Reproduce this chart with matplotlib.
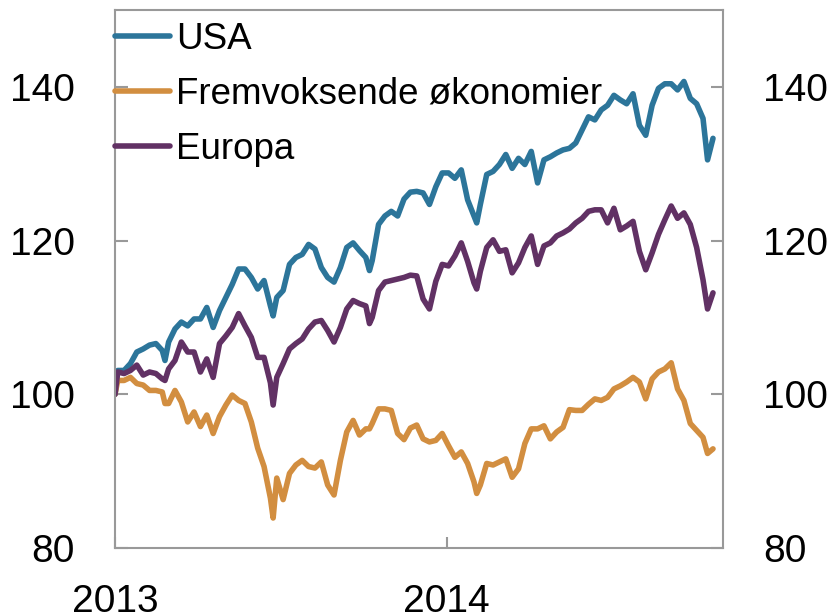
import matplotlib
matplotlib.use("Agg")
import matplotlib.pyplot as plt
import matplotlib.dates as mdates
import numpy as np
import pandas as pd

plt.rcParams['font.family'] = ['Liberation Sans', 'DejaVu Sans']

# weekly readings, Fridays from 2013-01-04 to 2014-10-10
weeks = pd.date_range("2013-01-04", periods=93, freq="7D")

usa = [103.1, 103.1, 104.0, 105.5, 105.9, 106.4, 106.6, 105.7, 106.8, 108.5,
       109.4, 108.9, 109.8, 109.8, 111.3, 108.7, 110.9, 112.6, 114.3, 116.3,
       116.3, 115.2, 113.7, 114.8, 111.5, 112.6, 113.5, 116.9, 117.8, 118.2,
       119.5, 118.9, 116.5, 115.2, 114.6, 116.5, 119.1, 119.7, 118.7, 117.8,
       117.4, 122.1, 123.2, 123.8, 123.2, 125.4, 126.3, 126.4, 126.2, 124.7,
       127.0, 128.8, 128.8, 128.1, 129.2, 125.3, 123.2, 124.7, 128.6, 129.0,
       129.9, 131.2, 129.4, 130.7, 129.9, 131.6, 127.5, 130.5, 130.9, 131.4,
       131.8, 132.0, 132.7, 134.4, 136.1, 135.7, 137.0, 137.6, 138.9, 138.3,
       137.8, 139.1, 135.0, 133.7, 137.6, 139.8, 140.4, 140.4, 139.6, 140.7,
       138.5, 137.8, 135.9]

fremvoksende = [101.8, 101.8, 102.2, 101.4, 101.2, 100.5, 100.5, 100.3, 98.8, 100.5,
                99.0, 96.4, 97.7, 95.8, 97.3, 94.9, 97.1, 98.6, 99.9, 99.2,
                98.8, 96.4, 93.0, 90.6, 86.5, 89.1, 86.3, 89.7, 90.8, 91.4,
                90.6, 90.4, 91.2, 88.2, 86.9, 91.4, 95.1, 96.6, 94.7, 95.5,
                96.2, 98.1, 98.1, 97.9, 94.9, 94.1, 95.6, 96.0, 94.2, 93.8,
                94.0, 94.9, 93.3, 91.8, 92.5, 91.0, 88.6, 88.2, 91.0, 90.8,
                91.2, 91.6, 89.2, 90.3, 93.6, 95.5, 95.5, 95.9, 94.2, 95.1,
                95.7, 98.0, 97.9, 97.9, 98.7, 99.4, 99.2, 99.6, 100.7, 101.1,
                101.6, 102.2, 101.6, 99.4, 102.0, 102.9, 103.3, 104.1, 100.7, 99.2,
                96.2, 95.3, 94.4]

europa = [102.9, 102.7, 103.1, 103.8, 102.5, 102.9, 102.7, 102.0, 103.3, 104.4,
          106.8, 105.5, 105.5, 102.9, 104.6, 102.2, 106.6, 107.6, 108.7, 110.5,
          108.9, 107.4, 104.8, 104.8, 101.5, 102.2, 104.0, 105.9, 106.6, 107.2,
          108.5, 109.4, 109.6, 108.3, 106.8, 108.7, 111.1, 112.2, 111.8, 111.5,
          110.0, 113.5, 114.6, 114.8, 115.0, 115.2, 115.5, 115.4, 112.4, 111.1,
          114.7, 116.9, 116.7, 118.0, 119.7, 117.3, 114.5, 116.0, 119.1, 120.1,
          118.6, 118.8, 115.8, 117.1, 119.1, 120.6, 116.9, 119.3, 119.7, 120.6,
          121.0, 121.5, 122.3, 122.9, 123.8, 124.0, 124.0, 122.3, 124.2, 121.4,
          121.9, 122.5, 118.6, 116.2, 118.4, 120.8, 122.7, 124.5, 122.9, 123.6,
          122.1, 119.1, 114.9]

# single days with sharp moves (start, dips, last days)
extra_dates = pd.to_datetime(["2013-01-01", "2013-02-25", "2013-06-24", "2013-10-08",
                              "2014-02-03", "2014-10-15", "2014-10-21"])
usa_extra = [100.0, 104.4, 110.2, 116.1, 122.3, 130.5, 133.3]
fremv_extra = [100.0, 98.8, 83.9, 95.5, 87.1, 92.3, 92.9]
europa_extra = [100.0, 101.8, 98.6, 109.2, 113.7, 111.1, 113.2]

labels = ["USA", "Fremvoksende økonomier", "Europa"]
colors = ["#2C759A", "#D28E40", "#613164"]


def series(weekly, extra):
    s = pd.concat([pd.Series(weekly, index=weeks), pd.Series(extra, index=extra_dates)])
    return s.sort_index()


fig = plt.figure(figsize=(8.34, 6.14), dpi=100)
ax = fig.add_axes([115 / 834, 66 / 614, 608 / 834, 538 / 614])

for weekly, extra, lab, col in zip([usa, fremvoksende, europa],
                                   [usa_extra, fremv_extra, europa_extra], labels, colors):
    s = series(weekly, extra)
    ax.plot(s.index, s.values, color=col, lw=4, label=lab, solid_capstyle='round',
            solid_joinstyle='round')

ax.set_ylim(80, 150)
ax.set_xlim(pd.Timestamp("2013-01-01"), pd.Timestamp("2014-11-01"))
ax.set_yticks([80, 100, 120, 140])
ax.set_xticks([pd.Timestamp("2013-01-01"), pd.Timestamp("2014-01-01")])
ax.xaxis.set_major_formatter(mdates.DateFormatter("%Y"))

for sp in ax.spines.values():
    sp.set_color("#999999")
    sp.set_linewidth(1.5)

ax.tick_params(axis='y', direction='in', length=9, width=1.5, color="#999999",
               labelsize=28, pad=29, left=True, right=True, labelleft=True, labelright=True)
ax.tick_params(axis='x', direction='in', length=8, width=1.5, color="#999999",
               labelsize=28, pad=26)

leg = ax.legend(loc='upper left', bbox_to_anchor=(0.0, 0.978), frameon=False,
                fontsize=26.5, handlelength=1.5, handletextpad=0.15,
                labelspacing=0.54, borderpad=0, borderaxespad=0)

fig.savefig("out.png", dpi=100)
